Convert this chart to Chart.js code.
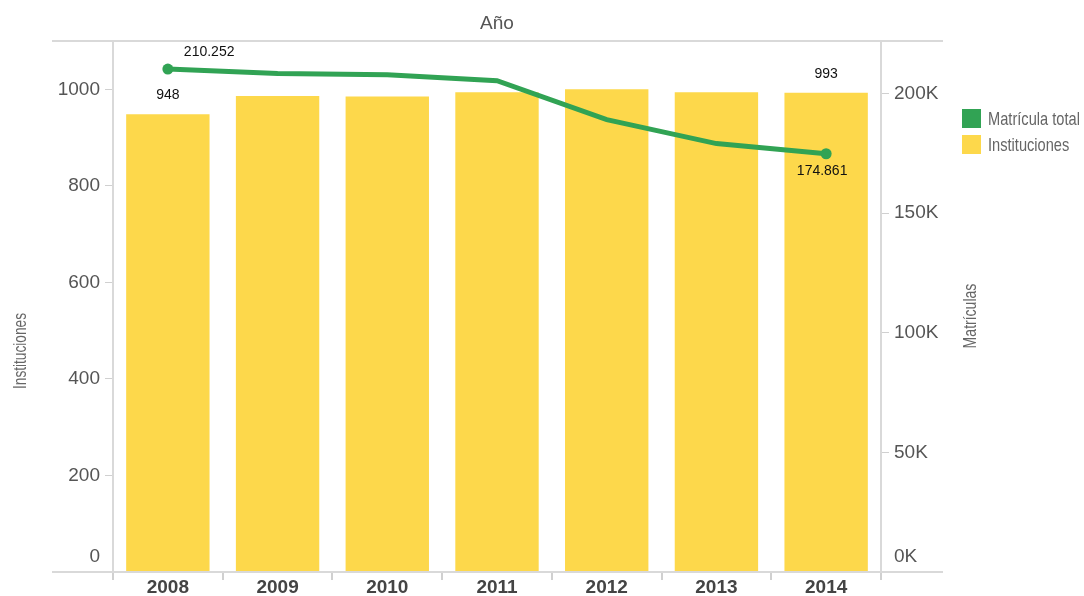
<!DOCTYPE html>
<html>
<head>
<meta charset="utf-8">
<script src="https://cdn.jsdelivr.net/npm/chart.js@4"></script>
<style>
  html, body { margin: 0; padding: 0; background: #fff; }
  canvas { display: block; }
</style>
</head>
<body>
<canvas id="chart" width="1084" height="596"></canvas>
<script>
// ── Data ──────────────────────────────────────
const years         = ['2008','2009','2010','2011','2012','2013','2014'];
const instituciones = [948, 986, 985, 994, 1000, 994, 993];
const matricula     = [210252, 208400, 207900, 205400, 189100, 179100, 174861];
const instTicks     = [0, 200, 400, 600, 800, 1000];
const matTicks      = [0, 50000, 100000, 150000, 200000];

const GREEN  = '#31a354';
const YELLOW = '#fdd84b';
const GRAY   = '#555555';
const LINE   = '#d9d9d9';

Chart.defaults.font.family = "'Liberation Sans', Arial, sans-serif";
Chart.defaults.color = GRAY;

// es-ES style thousands separator
function fmt(n) {
  return String(n).replace(/\B(?=(\d{3})+(?!\d))/g, '.');
}

const kLabel = v => (v / 1000) + 'K';

// condensed text (the original uses a narrow face)
function narrowText(ctx, text, x, y, size, sx, align) {
  ctx.save();
  ctx.font = size + "px 'Liberation Sans', Arial, sans-serif";
  ctx.textBaseline = 'middle';
  ctx.textAlign = align || 'left';
  ctx.translate(x, y);
  ctx.scale(sx, 1);
  ctx.fillText(text, 0, 0);
  ctx.restore();
}

// ── Frame, axis titles, legend, value labels ──
const decor = {
  id: 'decor',
  afterDatasetsDraw(chart) {
    const ctx = chart.ctx;
    const a = chart.chartArea;

    // top and bottom frame lines run past both axes
    ctx.save();
    ctx.strokeStyle = LINE;
    ctx.lineWidth = 2;
    ctx.beginPath();
    ctx.moveTo(52, a.top);    ctx.lineTo(943, a.top);
    ctx.moveTo(52, a.bottom); ctx.lineTo(943, a.bottom);
    ctx.stroke();
    ctx.restore();

    // zero labels sit a little above the baseline
    ctx.save();
    ctx.fillStyle = GRAY;
    ctx.font = "19px 'Liberation Sans', Arial, sans-serif";
    ctx.textBaseline = 'middle';
    const y0 = chart.scales.y.getPixelForValue(0) - 15;
    ctx.textAlign = 'right';
    ctx.fillText('0', chart.scales.y.right - 13, y0);
    ctx.textAlign = 'left';
    ctx.fillText(kLabel(0), chart.scales.y1.left + 13, y0);
    ctx.restore();

    // value labels: first and last of each series
    ctx.save();
    ctx.fillStyle = '#111';
    ctx.font = "14px 'Liberation Sans', Arial, sans-serif";
    ctx.textBaseline = 'middle';
    const line = chart.getDatasetMeta(0).data;
    const bars = chart.getDatasetMeta(1).data;
    const last = years.length - 1;

    ctx.textAlign = 'center';
    [0, last].forEach(i => {
      ctx.fillText(fmt(instituciones[i]), bars[i].x, bars[i].y - 19);
    });
    ctx.textAlign = 'left';
    ctx.fillText(fmt(matricula[0]), line[0].x + 16, line[0].y - 17);
    ctx.textAlign = 'center';
    ctx.fillText(fmt(matricula[last]), line[last].x - 4, line[last].y + 17);
    ctx.restore();

    // axis titles
    ctx.save();
    ctx.fillStyle = '#666';
    ctx.translate(21, 351);
    ctx.rotate(-Math.PI / 2);
    narrowText(ctx, 'Instituciones', 0, 0, 18, 0.76, 'center');
    ctx.restore();

    ctx.save();
    ctx.fillStyle = '#666';
    ctx.translate(971, 316);
    ctx.rotate(-Math.PI / 2);
    narrowText(ctx, 'Matrículas', 0, 0, 18, 0.78, 'center');
    ctx.restore();

    // legend
    const items = [
      { text: chart.data.datasets[0].label, color: GREEN },
      { text: chart.data.datasets[1].label, color: YELLOW },
    ];
    ctx.save();
    items.forEach((it, i) => {
      const y = 109 + i * 26;
      ctx.fillStyle = it.color;
      ctx.fillRect(962, y, 19, 19);
      ctx.fillStyle = '#666';
      narrowText(ctx, it.text, 988, y + 10.5, 19, 0.77, 'left');
    });
    ctx.restore();
  }
};

// ── Chart ─────────────────────────────────────
new Chart(document.getElementById('chart').getContext('2d'), {
  type: 'bar',
  data: {
    labels: years,
    datasets: [
      {
        type:             'line',
        label:            'Matrícula total',
        data:             matricula,
        yAxisID:          'y1',
        borderColor:      GREEN,
        backgroundColor:  GREEN,
        borderWidth:      5,
        tension:          0,
        pointBorderWidth: 0,
        pointRadius:      c => (c.dataIndex === 0 || c.dataIndex === years.length - 1) ? 5.5 : 0,
        pointHoverRadius: 5.5,
        order:            0,
      },
      {
        type:               'bar',
        label:              'Instituciones',
        data:               instituciones,
        yAxisID:            'y',
        backgroundColor:    YELLOW,
        borderWidth:        0,
        categoryPercentage: 0.76,
        barPercentage:      1,
        order:              1,
      }
    ]
  },
  options: {
    responsive: false,
    animation:  false,
    layout:     { padding: { left: 0, right: 141, top: 0, bottom: 0 } },
    plugins: {
      legend:  { display: false },
      tooltip: { enabled: false },
      title: {
        display:  true,
        text:     'Año',
        fullSize: false,
        color:    GRAY,
        font:     { size: 19, weight: 'normal' },
        padding:  { top: 12, bottom: 6.2 },
      }
    },
    scales: {
      x: {
        border: { display: false },
        grid:   { drawOnChartArea: false, drawTicks: true, tickLength: 8, color: '#d0d0d0', lineWidth: 2 },
        ticks:  { color: '#444', font: { size: 19, weight: 'bold' }, padding: -4 },
        afterFit: s => { s.height = 24; },
      },
      y: {
        position: 'left',
        min: 0,
        max: 1100,
        afterBuildTicks: s => { s.ticks = instTicks.map(v => ({ value: v })); },
        border: { color: LINE, width: 2 },
        grid:   { drawOnChartArea: false, tickLength: 8, color: c => c.tick && c.tick.value === 0 ? 'rgba(0,0,0,0)' : '#d0d0d0' },
        ticks:  { color: GRAY, font: { size: 19 }, padding: 5, callback: v => v === 0 ? '' : String(v) },
        afterFit: s => { s.width = 113; },
      },
      y1: {
        position: 'right',
        min: 0,
        max: 222000,
        afterBuildTicks: s => { s.ticks = matTicks.map(v => ({ value: v })); },
        border: { color: LINE, width: 2 },
        grid:   { drawOnChartArea: false, tickLength: 8, color: c => c.tick && c.tick.value === 0 ? 'rgba(0,0,0,0)' : '#d0d0d0' },
        ticks:  { color: GRAY, font: { size: 19 }, padding: 5, callback: v => v === 0 ? '' : kLabel(v) },
        afterFit: s => { s.width = 62; },
      }
    }
  },
  plugins: [decor]
});
</script>
</body>
</html>
